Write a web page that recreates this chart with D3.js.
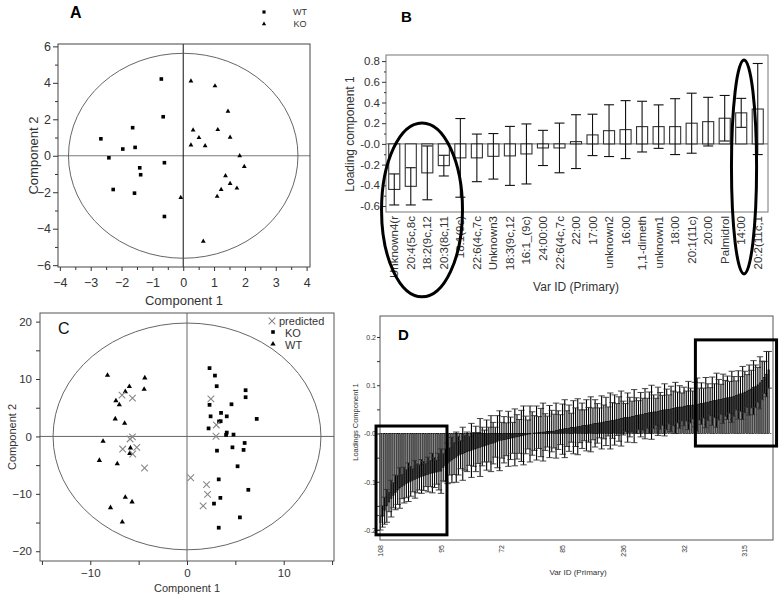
<!DOCTYPE html>
<html><head><meta charset="utf-8">
<script src="https://cdn.jsdelivr.net/npm/d3@7"></script>
<style>body{margin:0;background:#fff}svg{display:block;font-family:"Liberation Sans",Arial,sans-serif}</style>
</head><body><svg id="c" width="779" height="599"></svg>
<script>
// ---------- Panel A data ----------
const aWT = [[-0.71,4.21],[-0.65,2.14],[-1.64,1.54],[-2.67,0.93],[-1.96,0.37],[-1.56,0.46],[-2.41,-0.11],[-0.61,-0.38],[-1.41,-0.66],[-1.38,-1.04],[-2.27,-1.85],[-1.58,-2.05],[-0.61,-3.33]];
const aKO = [[0.25,4.10],[1.03,3.83],[1.45,2.44],[0.32,1.41],[1.12,1.43],[0.51,0.99],[1.52,1.01],[0.25,0.59],[0.71,0.55],[1.83,0.0],[1.98,-0.59],[1.37,-1.10],[1.23,-1.85],[1.52,-1.52],[1.74,-1.78],[1.10,-2.23],[-0.08,-2.29],[0.65,-4.69]];
const aXTicks = [-4,-3,-2,-1,0,1,2,3,4];
const aYTicks = [-6,-4,-2,0,2,4,6];
const aEllipse = {rx:3.72, ry:5.62};
const aLegend = ["WT","KO"];

// ---------- Panel B data ----------
const bCategories = ["Unknown4(r","20:4(5c,8c","18:2(9c,12","20:3(8c,11","18:1(9c)","22:6(4c,7c","Unknown3","18:3(9c,12","16:1_(9c)","24:00:00","22:6(4c,7c","22:00","17:00","unknown2","16:00","1,1-dimeth","unknown1","18:00","20:1(11c)","20:00","Palmidrol","14:00","20:2(11c,1"];
const bValues = [-0.44,-0.41,-0.28,-0.21,-0.135,-0.135,-0.12,-0.116,-0.097,-0.039,-0.039,0.022,0.087,0.128,0.138,0.167,0.167,0.167,0.20,0.215,0.248,0.30,0.337];
const bErrors = [0.15,0.18,0.26,0.10,0.38,0.23,0.22,0.285,0.29,0.17,0.24,0.26,0.20,0.25,0.28,0.245,0.21,0.27,0.29,0.235,0.22,0.14,0.44];
const bYTicks = [-0.6,-0.4,-0.2,0,0.2,0.4,0.6,0.8];
const bYTickLabels = ["-0.6","-0.4","-0.2","-0.0","0.2","0.4","0.6","0.8"];
const bHighlights = [{cx:1.68, rx:2.45, cy:-0.638, ry:0.84},{cx:21.17, rx:0.76, cy:-0.223, ry:1.033}];

// ---------- Panel C data ----------
const cWT = [[-8.22,10.65],[-4.36,10.2],[-5.96,8.7],[-6.38,7.8],[-4.43,8.2],[-7.35,6.2],[-7.0,5.5],[-7.42,3.06],[-6.45,2.3],[-8.68,-0.85],[-5.85,-2.0],[-5.92,-2.95],[-9.06,-4.17],[-7.21,-4.75],[-6.38,-10.6],[-5.68,-11.4],[-7.91,-12.4],[-6.69,-14.9]];
const cKO = [[2.33,11.9],[2.89,10.6],[3.07,8.75],[6.06,8.05],[6.06,6.83],[2.33,5.5],[4.6,5.6],[2.44,3.5],[3.52,4.1],[4.11,3.5],[7.21,3.05],[3.48,2.65],[3.31,2.6],[2.23,1.4],[4.11,0.67],[4.04,0.26],[4.81,0.32],[5.96,-1.14],[4.7,-1.9],[5.85,-2.35],[3.1,-2.48],[5.23,-5.2],[3.28,-7.48],[6.34,-9.3],[3.45,-10.7],[2.79,-11.7],[5.47,-14.1],[3.28,-15.9]];
const cPred = [[-6.72,7.2],[-5.64,6.67],[-5.64,-0.09],[-5.89,-0.44],[-5.19,-1.9],[-6.65,-2.2],[-5.61,-3.06],[-4.39,-5.5],[2.47,6.55],[3.03,2.0],[3.0,0.03],[0.38,-7.2],[2.02,-8.4],[2.13,-10.1],[1.67,-12.1]];
const cXTicks = [-10,0,10];
const cXMinor = [-15,-5,5,15];
const cYTicks = [-20,-10,0,10,20];
const cYMinor = [-15,-5,5,15];
const cEllipse = {rx:13.85, ry:19.75};
const cLegend = ["predicted","KO","WT"];

// ---------- Panel D data ----------
const dValues = [
-0.185,-0.172,-0.160,-0.150,-0.142,-0.135,-0.128,-0.122,-0.117,-0.113,
-0.110,-0.107,-0.104,-0.101,-0.099,-0.097,-0.095,-0.093,-0.091,-0.089,
-0.088,-0.086,-0.085,-0.083,-0.082,-0.081,-0.080,-0.079,-0.078,-0.070,
-0.066,-0.062,-0.058,-0.055,-0.052,-0.049,-0.046,-0.044,-0.042,-0.040,
-0.038,-0.036,-0.035,-0.033,-0.032,-0.030,-0.029,-0.027,-0.026,-0.024,
-0.023,-0.021,-0.020,-0.018,-0.017,-0.015,-0.014,-0.013,-0.012,-0.011,
-0.010,-0.009,-0.008,-0.007,-0.006,-0.005,-0.004,-0.003,-0.002,-0.001,
0.000,0.001,0.001,0.002,0.002,0.003,0.003,0.004,0.004,0.005,
0.005,0.006,0.007,0.008,0.009,0.010,0.010,0.011,0.012,0.013,
0.013,0.014,0.015,0.016,0.017,0.017,0.018,0.019,0.020,0.021,
0.021,0.022,0.023,0.024,0.025,0.025,0.026,0.027,0.028,0.029,
0.030,0.031,0.032,0.033,0.033,0.034,0.035,0.036,0.037,0.038,
0.039,0.040,0.041,0.042,0.043,0.044,0.045,0.045,0.046,0.047,
0.048,0.049,0.050,0.050,0.051,0.052,0.053,0.054,0.055,0.055,
0.056,0.057,0.058,0.058,0.059,0.060,0.060,0.061,0.062,0.063,
0.064,0.065,0.066,0.067,0.068,0.069,0.070,0.071,0.072,0.073,
0.074,0.075,0.076,0.077,0.079,0.080,0.082,0.084,0.086,0.088,
0.090,0.092,0.095,0.098,0.101,0.105,0.110,0.116,0.123,0.132];
const dErrors = [
.015,.022,.028,.034,.020,.038,.026,.036,.030,.042,.025,.037,.029,.040,.031,.024,.039,.030,.026,.035,
.030,.024,.036,.027,.041,.031,.025,.038,.046,.028,.034,.042,.028,.047,.033,.052,.040,.029,.055,.036,
.041,.030,.056,.035,.047,.032,.060,.040,.033,.052,.036,.058,.043,.031,.054,.062,.037,.048,.034,.057,
.044,.032,.059,.046,.035,.053,.061,.039,.030,.058,.045,.036,.056,.033,.050,.060,.038,.032,.054,.043,
.035,.057,.040,.031,.052,.060,.037,.048,.030,.055,.040,.058,.034,.047,.032,.053,.036,.057,.033,.049,
.041,.031,.055,.035,.050,.030,.058,.037,.052,.033,.046,.057,.035,.029,.051,.041,.032,.055,.037,.030,
.046,.033,.052,.031,.043,.056,.035,.028,.050,.038,.031,.054,.042,.030,.047,.036,.053,.032,.044,.029,
.040,.031,.050,.036,.029,.046,.055,.033,.043,.031,.052,.038,.029,.050,.035,.056,.042,.031,.051,.037,
.045,.033,.053,.041,.030,.050,.036,.055,.043,.034,.052,.039,.056,.044,.036,.054,.040,.033,.047,.038];
const dTickIndex = [0,28,56,84,112,140,168];
const dTickLabels = ["108","95","72","85","236","32","315"];
const dYTicks = [-0.2,-0.1,0,0.1,0.2];
const dYTickLabels = ["-0.2","-0.1","-0.0","0.1","0.2"];
const dYMinor = [-0.15,-0.05,0.05,0.15];
const dHighlights = [{from:-1.6,to:31.1,hi:0.0155,lo:-0.21},{from:145.6,to:183,hi:0.194,lo:-0.026}];

const svg = d3.select("#c");
svg.append("rect").attr("width",779).attr("height",599).attr("fill","#fff");

function styleAxis(sel, fs, col){
  sel.select(".domain").remove();
  sel.selectAll("line").attr("stroke","#333");
  sel.selectAll("text").attr("font-size",fs).attr("fill",col||"#222").attr("font-family","Liberation Sans, Arial, sans-serif");
}
function frame(g,x0,x1,y0,y1,col){
  g.append("rect").attr("x",x0).attr("y",y0).attr("width",x1-x0).attr("height",y1-y0)
   .attr("fill","none").attr("stroke",col).attr("stroke-width",1);
}

// ================= Panel A =================
(function(){
  const g = svg.append("g");
  const xd=[-4.06,4.11], yd=[-6.1,6.13];
  const x = d3.scaleLinear().domain(xd).range([58,310]);
  const y = d3.scaleLinear().domain(yd).range([267,44]);
  g.append("line").attr("x1",x(xd[0])).attr("x2",x(xd[1])).attr("y1",y(0)).attr("y2",y(0)).attr("stroke","#777");
  g.append("line").attr("x1",x(0)).attr("x2",x(0)).attr("y1",y(yd[0])).attr("y2",y(yd[1])).attr("stroke","#111");
  g.append("ellipse").attr("cx",x(0)).attr("cy",y(0)).attr("rx",x(aEllipse.rx)-x(0)).attr("ry",y(0)-y(aEllipse.ry))
    .attr("fill","none").attr("stroke","#555").attr("stroke-width",0.9);
  frame(g,x(xd[0]),x(xd[1]),y(yd[1]),y(yd[0]),"#444");
  const ax = g.append("g").attr("transform",`translate(0,${y(yd[0])})`)
    .call(d3.axisBottom(x).tickValues(aXTicks).tickSize(4).tickPadding(7).tickFormat(d3.format("d")));
  styleAxis(ax,12.5,"#333");
  const axm = g.append("g").attr("transform",`translate(0,${y(yd[0])})`)
    .call(d3.axisBottom(x).tickValues(d3.range(-3.5,4,1)).tickSize(3).tickFormat(""));
  styleAxis(axm,12);
  const ay = g.append("g").attr("transform",`translate(${x(xd[0])},0)`)
    .call(d3.axisLeft(y).tickValues(aYTicks).tickSize(5).tickPadding(2).tickFormat(d3.format("d")));
  styleAxis(ay,12.5,"#333");
  const aym = g.append("g").attr("transform",`translate(${x(xd[0])},0)`)
    .call(d3.axisLeft(y).tickValues([-5,-3,-1,1,3,5]).tickSize(3).tickFormat(""));
  styleAxis(aym,12);
  g.selectAll(".wt").data(aWT).join("path").attr("d",d3.symbol(d3.symbolSquare,13))
    .attr("transform",d=>`translate(${x(d[0])},${y(d[1])})`).attr("fill","#000");
  g.selectAll(".ko").data(aKO).join("path").attr("d",d3.symbol(d3.symbolTriangle,10))
    .attr("transform",d=>`translate(${x(d[0])},${y(d[1])})`).attr("fill","#000");
  g.append("text").attr("x",(x(xd[0])+x(xd[1]))/2).attr("y",305).attr("text-anchor","middle")
    .attr("font-size",13).attr("fill","#333").text("Component 1");
  g.append("text").attr("transform",`translate(33,${(y(yd[0])+y(yd[1]))/2}) rotate(-90)`).attr("text-anchor","middle")
    .attr("dy","0.35em").attr("font-size",13).attr("fill","#333").text("Component 2");
  g.append("text").attr("x",70).attr("y",18).attr("font-size",16).attr("font-weight","bold").text("A");
  const lg = g.append("g");
  lg.append("path").attr("d",d3.symbol(d3.symbolSquare,10)).attr("transform","translate(264,12)");
  lg.append("path").attr("d",d3.symbol(d3.symbolTriangle,8)).attr("transform","translate(264,24)");
  lg.selectAll("text").data(aLegend).join("text").attr("x",300).attr("y",(d,i)=>15+i*12)
    .attr("text-anchor","middle").attr("font-size",9).attr("fill","#333").text(d=>d);
})();

// ================= Panel B =================
(function(){
  const g = svg.append("g");
  const yd=[-0.658,0.859];
  const x = d3.scaleBand().domain(d3.range(bCategories.length)).range([386,766]).paddingInner(0.33).paddingOuter(0.165);
  const step = x.step();
  const xc = i => x(i)+x.bandwidth()/2;
  const xi = v => 386 + step*(v+0.5);
  const y = d3.scaleLinear().domain(yd).range([212,55]);
  frame(g,386,768,y(yd[1]),y(yd[0]),"#777");
  g.append("line").attr("x1",386).attr("x2",768).attr("y1",y(0)).attr("y2",y(0)).attr("stroke","#666");
  const ay = g.append("g").attr("transform","translate(386,0)")
    .call(d3.axisLeft(y).tickValues(bYTicks).tickSize(4).tickPadding(2).tickFormat((d,i)=>bYTickLabels[i]));
  styleAxis(ay,11.5,"#333");
  const aym = g.append("g").attr("transform","translate(386,0)")
    .call(d3.axisLeft(y).tickValues([-0.5,-0.3,-0.1,0.1,0.3,0.5,0.7]).tickSize(2).tickFormat(""));
  styleAxis(aym,11);
  const bars = g.selectAll(".bar").data(bValues).join("g");
  bars.append("rect").attr("x",(d,i)=>x(i)).attr("width",x.bandwidth())
    .attr("y",d=>y(Math.max(0,d))).attr("height",d=>Math.abs(y(d)-y(0)))
    .attr("fill","#fff").attr("stroke","#333").attr("stroke-width",1.1);
  bars.append("line").attr("x1",(d,i)=>xc(i)).attr("x2",(d,i)=>xc(i))
    .attr("y1",(d,i)=>y(d-bErrors[i])).attr("y2",(d,i)=>y(d+bErrors[i])).attr("stroke","#111").attr("stroke-width",1.1);
  [-1,1].forEach(s=>{
    bars.append("line").attr("x1",(d,i)=>xc(i)-5).attr("x2",(d,i)=>xc(i)+5)
      .attr("y1",(d,i)=>y(d+s*bErrors[i])).attr("y2",(d,i)=>y(d+s*bErrors[i])).attr("stroke","#111").attr("stroke-width",1.1);
  });
  g.selectAll(".xl").data(bCategories).join("text")
    .attr("transform",(d,i)=>`translate(${xc(i)},216) rotate(-90)`).attr("text-anchor","end").attr("dy","0.35em")
    .attr("font-size",11.5).attr("fill","#333").text(d=>d);
  g.append("text").attr("x",576).attr("y",291).attr("text-anchor","middle").attr("font-size",12).attr("fill","#333").text("Var ID (Primary)");
  g.append("text").attr("transform",`translate(350,134) rotate(-90)`).attr("text-anchor","middle").attr("dy","0.35em")
    .attr("font-size",12).attr("fill","#333").text("Loading component 1");
  g.append("text").attr("x",401).attr("y",22).attr("font-size",15).attr("font-weight","bold").text("B");
  g.selectAll(".hl").data(bHighlights).join("ellipse")
    .attr("cx",d=>xi(d.cx)).attr("rx",d=>d.rx*step).attr("cy",d=>y(d.cy)).attr("ry",d=>y(0)-y(d.ry))
    .attr("fill","none").attr("stroke","#000").attr("stroke-width",3);
})();

// ================= Panel C =================
(function(){
  const g = svg.append("g");
  const xd=[-15.2,15.2], yd=[-21.7,21.5];
  const x = d3.scaleLinear().domain(xd).range([40,334]);
  const y = d3.scaleLinear().domain(yd).range([561,313]);
  g.append("line").attr("x1",x(xd[0])).attr("x2",x(xd[1])).attr("y1",y(0)).attr("y2",y(0)).attr("stroke","#666");
  g.append("line").attr("x1",x(0)).attr("x2",x(0)).attr("y1",y(yd[0])).attr("y2",y(yd[1])).attr("stroke","#666");
  g.append("ellipse").attr("cx",x(0)).attr("cy",y(0)).attr("rx",x(cEllipse.rx)-x(0)).attr("ry",y(0)-y(cEllipse.ry))
    .attr("fill","none").attr("stroke","#666").attr("stroke-width",1);
  frame(g,x(xd[0]),x(xd[1]),y(yd[1]),y(yd[0]),"#555");
  const ax = g.append("g").attr("transform",`translate(0,${y(yd[0])})`)
    .call(d3.axisBottom(x).tickValues(cXTicks).tickSize(4).tickPadding(4).tickFormat(d3.format("d")));
  styleAxis(ax,11.5,"#333");
  const axm = g.append("g").attr("transform",`translate(0,${y(yd[0])})`)
    .call(d3.axisBottom(x).tickValues(cXMinor).tickSize(4).tickFormat(""));
  styleAxis(axm,11);
  const ay = g.append("g").attr("transform",`translate(${x(xd[0])},0)`)
    .call(d3.axisLeft(y).tickValues(cYTicks).tickSize(4).tickPadding(4).tickFormat(d3.format("d")));
  styleAxis(ay,11.5,"#333");
  const aym = g.append("g").attr("transform",`translate(${x(xd[0])},0)`)
    .call(d3.axisLeft(y).tickValues(cYMinor).tickSize(4).tickFormat(""));
  styleAxis(aym,11);
  g.selectAll(".ko").data(cKO).join("path").attr("d",d3.symbol(d3.symbolSquare,14))
    .attr("transform",d=>`translate(${x(d[0])},${y(d[1])})`).attr("fill","#000");
  g.selectAll(".wt").data(cWT).join("path").attr("d",d3.symbol(d3.symbolTriangle,12))
    .attr("transform",d=>`translate(${x(d[0])},${y(d[1])})`).attr("fill","#000");
  const cross = d3.symbol(d3.symbolX,30);
  g.selectAll(".pr").data(cPred).join("path").attr("d",cross)
    .attr("transform",d=>`translate(${x(d[0])},${y(d[1])})`).attr("fill","none").attr("stroke","#888").attr("stroke-width",1.1);
  g.append("text").attr("x",(x(xd[0])+x(xd[1]))/2).attr("y",592).attr("text-anchor","middle")
    .attr("font-size",11).attr("fill","#333").text("Component 1");
  g.append("text").attr("transform",`translate(12,${(y(yd[0])+y(yd[1]))/2}) rotate(-90)`).attr("text-anchor","middle")
    .attr("dy","0.35em").attr("font-size",11).attr("fill","#333").text("Component 2");
  g.append("text").attr("x",58).attr("y",334).attr("font-size",16).attr("fill","#111").text("C");
  const lg = g.append("g");
  lg.append("path").attr("d",d3.symbol(d3.symbolX,30)).attr("transform","translate(272,321)").attr("fill","none").attr("stroke","#888").attr("stroke-width",1.1);
  lg.append("path").attr("d",d3.symbol(d3.symbolSquare,13)).attr("transform","translate(273,332)");
  lg.append("path").attr("d",d3.symbol(d3.symbolTriangle,12)).attr("transform","translate(273,344)");
  lg.selectAll("text").data(cLegend).join("text").attr("x",(d,i)=>i===0?279:285).attr("y",(d,i)=>[324.5,336.5,348.5][i])
    .attr("font-size",11).attr("fill","#333").text(d=>d);
})();

// ================= Panel D =================
(function(){
  const g = svg.append("g");
  const yd=[-0.2207,0.2435];
  const x = d3.scaleBand().domain(d3.range(dValues.length)).range([379.5,769.5]).paddingInner(0.25);
  const step = x.step();
  const xc = i => x(i)+x.bandwidth()/2;
  const xi = v => 379.5 + step*v;
  const y = d3.scaleLinear().domain(yd).range([540,316]);
  g.append("line").attr("x1",380).attr("x2",773).attr("y1",y(0)).attr("y2",y(0)).attr("stroke","#777").attr("stroke-dasharray","1.5,1.5");
  const bars = g.selectAll(".bar").data(dValues).join("g");
  bars.append("rect").attr("x",(d,i)=>x(i)).attr("width",x.bandwidth())
    .attr("y",d=>y(Math.max(0,d))).attr("height",d=>Math.abs(y(d)-y(0)))
    .attr("fill","#888").attr("stroke","#000").attr("stroke-width",0.5);
  bars.append("line").attr("x1",(d,i)=>xc(i)).attr("x2",(d,i)=>xc(i))
    .attr("y1",(d,i)=>y(d-dErrors[i])).attr("y2",(d,i)=>y(d+dErrors[i])).attr("stroke","#000").attr("stroke-width",1.1);
  [-1,1].forEach(s=>{
    bars.append("line").attr("x1",(d,i)=>xc(i)-3.2).attr("x2",(d,i)=>xc(i)+3.2)
      .attr("y1",(d,i)=>y(d+s*dErrors[i])).attr("y2",(d,i)=>y(d+s*dErrors[i])).attr("stroke","#333").attr("stroke-width",0.9);
  });
  frame(g,380,773,316,540,"#555");
  const ay = g.append("g").attr("transform","translate(380,0)")
    .call(d3.axisLeft(y).tickValues(dYTicks).tickSize(3).tickPadding(1).tickFormat((d,i)=>dYTickLabels[i]));
  styleAxis(ay,7,"#333");
  const aym = g.append("g").attr("transform","translate(380,0)")
    .call(d3.axisLeft(y).tickValues(dYMinor).tickSize(3).tickFormat(""));
  styleAxis(aym,7);
  g.selectAll(".xl").data(dTickIndex).join("text")
    .attr("transform",(d,i)=>`translate(${xc(d)},545) rotate(-90)`).attr("text-anchor","end").attr("dy","0.35em")
    .attr("font-size",7).attr("fill","#333").text((d,i)=>dTickLabels[i]);
  g.append("text").attr("x",578).attr("y",575).attr("text-anchor","middle").attr("font-size",8).attr("fill","#333").text("Var ID (Primary)");
  g.append("text").attr("transform",`translate(355,422) rotate(-90)`).attr("text-anchor","middle").attr("dy","0.35em")
    .attr("font-size",7.5).attr("fill","#333").text("Loadings Component 1");
  g.append("text").attr("x",398).attr("y",340).attr("font-size",15).attr("font-weight","bold").text("D");
  g.selectAll(".hl").data(dHighlights).join("rect")
    .attr("x",d=>xi(d.from)).attr("width",d=>xi(d.to)-xi(d.from)).attr("y",d=>y(d.hi)).attr("height",d=>y(d.lo)-y(d.hi))
    .attr("fill","none").attr("stroke","#000").attr("stroke-width",3);
})();
</script></body></html>
